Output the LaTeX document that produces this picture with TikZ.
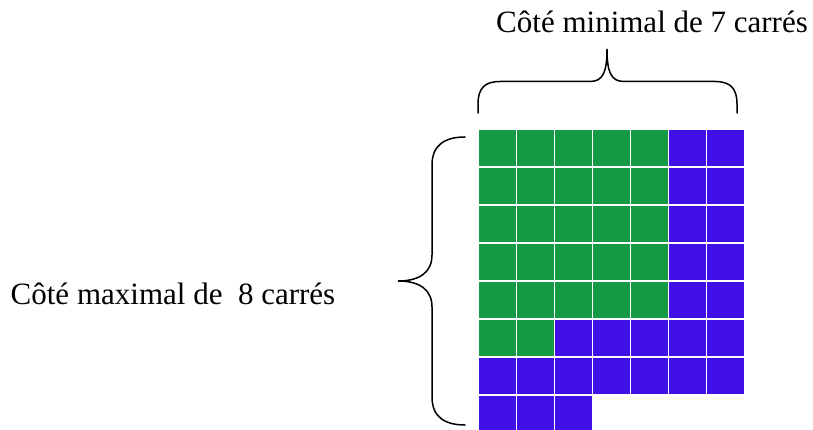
\documentclass[tikz,border=0pt]{standalone}
\usepackage{fontspec}
\setmainfont{Liberation Serif}
\definecolor{cgreen}{HTML}{149A42}
\definecolor{cblue}{HTML}{4010E6}
\begin{document}
\begin{tikzpicture}[x=1pt,y=-1pt,
  cellg/.style={fill=cgreen,draw=white,line width=1.8pt},
  cellb/.style={fill=cblue,draw=white,line width=1.8pt},
  bracestyle/.style={draw=black,line width=1.5pt,line cap=round},
  lbl/.style={anchor=base west,inner sep=0pt,font=\fontsize{31}{36}\selectfont}]
\useasboundingbox (0,0) rectangle (813,430);
\fill[white] (0,0) rectangle (813,430);
\def\xo{478.5}\def\yo{129.3}\def\p{38}
% rows: list of col:colour
\foreach \r in {0,...,4}{
  \foreach \c in {0,...,4} \path[cellg] (\xo+\c*\p,\yo+\r*\p) rectangle ++(\p,\p);
  \foreach \c in {5,6} \path[cellb] (\xo+\c*\p,\yo+\r*\p) rectangle ++(\p,\p);
}
\foreach \c in {0,1} \path[cellg] (\xo+\c*\p,\yo+5*\p) rectangle ++(\p,\p);
\foreach \c in {2,...,6} \path[cellb] (\xo+\c*\p,\yo+5*\p) rectangle ++(\p,\p);
\foreach \c in {0,...,6} \path[cellb] (\xo+\c*\p,\yo+6*\p) rectangle ++(\p,\p);
\foreach \c in {0,1,2} \path[cellb] (\xo+\c*\p,\yo+7*\p) rectangle ++(\p,\p);
% top brace
\draw[bracestyle] (478,113) -- (478,104) .. controls (478,88) and (485,81.5) .. (500,81.5) -- (590,81.5) .. controls (603,81.5) and (607,72) .. (607,49)
  .. controls (607,72) and (611,81.5) .. (624,81.5) -- (715,81.5) .. controls (730,81.5) and (737,88) .. (737,104) -- (737,113);
% left brace
\draw[bracestyle] (465,137) .. controls (445,137) and (432,145) .. (432,165) -- (432,255) .. controls (432,272) and (420,281) .. (398,281)
  .. controls (420,281) and (432,290) .. (432,307) -- (432,397) .. controls (432,417) and (445,425) .. (465,425);
\node[lbl] (top) at (496,33) {Côté minimal de 7 carrés};
\node[lbl] (left) at (10.5,304) {Côté maximal de~~8 carrés};
\end{tikzpicture}
\end{document}
